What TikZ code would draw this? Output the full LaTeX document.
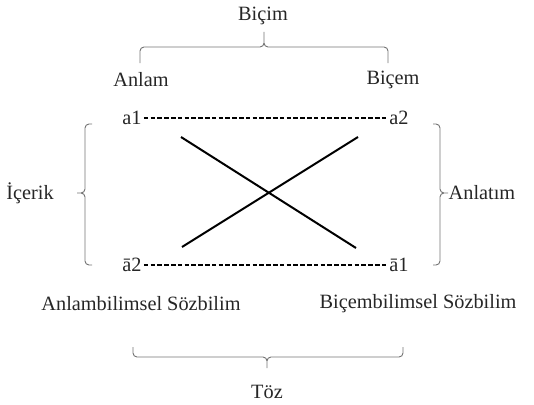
\documentclass[tikz,border=0pt]{standalone}
\usepackage{fontspec}
\setmainfont{Liberation Serif}
\begin{document}
\begin{tikzpicture}[x=1pt,y=-1pt,font=\fontsize{20.3}{24}\selectfont,
		every node/.style={text=black!85, inner sep=2pt},
		brace/.style={draw=black!55, line width=0.9pt, rounded corners=4pt},
		dots/.style={draw=black, line width=1.2pt, dash pattern=on 4.6pt off 2.2pt},
		cross/.style={draw=black, line width=2pt}]
		\useasboundingbox (0,0) rectangle (534,404);
		\node (Bicim) at (263,16) {Biçim};
		\node (Anlam) at (141,80) {Anlam};
		\node (Bicem) at (393,80) {Biçem};
		\node (a_1) at (132,118) {a1};
		\node (a_2) at (399,118) {a2};
		\node (b_2) at (132,265) {ā2};
		\node (b_1) at (399,265) {ā1};
		\node (Icerik) at (30,193) {İçerik};
		\node (Anlatim) at (482,193) {Anlatım};
		\node (AS) at (141,304) {Anlambilimsel Sözbilim};
		\node (BS) at (418,304) {Biçembilimsel Sözbilim};
		\node (Toz) at (267,392) {Töz};
		\coordinate (X_1) at (181,137);
		\coordinate (X_2) at (356,248);
		\coordinate (Y_1) at (182,247);
		\coordinate (Y_2) at (358,137);
		\draw [dots] (a_1)--(a_2) (b_2)--(b_1);
		\draw [cross] (X_1)--(X_2) (Y_1)--(Y_2);
		\draw [brace] (140,63)--(140,47)--(264,47)--(264,32) (264,32)--(264,47)--(388,47)--(388,63);
		\draw [brace] (133,347)--(133,357)--(267,357)--(267,368) (267,368)--(267,357)--(403,357)--(403,347);
		\draw [brace] (92,124)--(85,124)--(85,193)--(77,193) (77,193)--(85,193)--(85,265)--(92,265);
		\draw [brace] (433,124)--(440,124)--(440,193)--(448,193) (448,193)--(440,193)--(440,265)--(433,265);
\end{tikzpicture}
\end{document}
